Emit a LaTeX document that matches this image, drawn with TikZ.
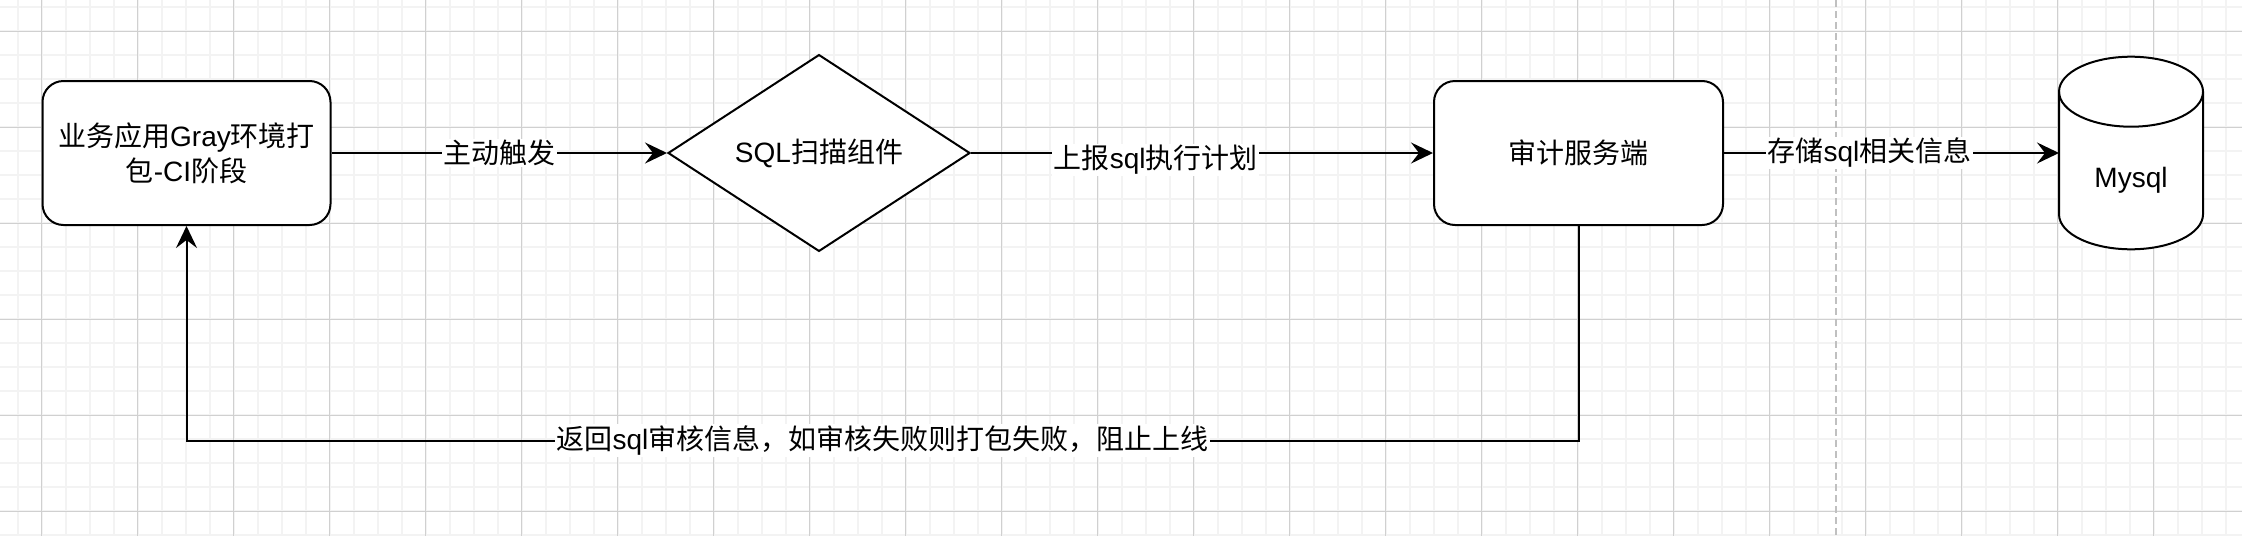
\documentclass[tikz,border=0pt]{standalone}
\usepackage{fontspec}
\setmainfont{Liberation Sans}
\newfontfamily\cjk{Noto Sans CJK SC}
\usetikzlibrary{arrows.meta,shapes.geometric}
\definecolor{gridminor}{RGB}{243,243,243}
\definecolor{gridmajor}{RGB}{208,208,208}
\definecolor{guide}{RGB}{192,192,192}
\tikzset{
  txt/.style={font=\fontsize{28}{35}\selectfont, align=center},
  box/.style={txt, draw, line width=2pt, rounded corners=21pt, fill=white,
    minimum width=288pt, minimum height=144pt, inner sep=0pt},
  decision/.style={txt, draw, diamond, line width=2pt, fill=white,
    minimum width=302pt, minimum height=192pt, inner sep=0pt},
  dbnode/.style={minimum width=144pt, minimum height=192.6pt, inner sep=0pt, outer sep=0pt},
  conn/.style={line width=2pt, -{Stealth[length=22pt,width=21pt,inset=8pt]}},
  lab/.style={txt, fill=white, inner sep=1.5pt},
  minorline/.style={gridminor, line width=2pt},
  majorline/.style={gridmajor, line width=1.2pt},
}
\begin{document}
\begin{tikzpicture}[x=1pt,y=-1pt]
\useasboundingbox (0,0) rectangle (2242,536);
\clip (0,0) rectangle (2242,536);
\fill[white] (0,0) rectangle (2242,536);
% grid
\foreach \i in {0,...,93} {\draw[minorline] (17.7+24*\i,0) -- (17.7+24*\i,536);}
\foreach \i in {0,...,22} {\draw[minorline] (0,7.3+24*\i) -- (2242,7.3+24*\i);}
\foreach \i in {0,...,23} {\draw[majorline] (41.7+96*\i,0) -- (41.7+96*\i,536);}
\foreach \i in {0,...,5} {\draw[majorline] (0,31.3+96*\i) -- (2242,31.3+96*\i);}
% dashed guide
\draw[guide, line width=2pt, dash pattern=on 7pt off 4pt] (1836,0) -- (1836,536);

% nodes
\node[box] (app) at (186.5,153) {{\cjk 业务应用}Gray{\cjk 环境打}\\{\cjk 包}-CI{\cjk 阶段}};
\node[decision] (scan) at (819,153) {SQL{\cjk 扫描组件}};
\node[box, minimum width=289pt] (audit) at (1578.5,153) {{\cjk 审计服务端}};
\node[dbnode] (db) at (2131,153) {};
\path[draw, fill=white, line width=2pt]
  ([yshift=-35pt]db.north west) -- ([yshift=35pt]db.south west)
  arc[start angle=180, end angle=360, x radius=72pt, y radius=35pt]
  -- ([yshift=-35pt]db.north east)
  arc[start angle=0, end angle=180, x radius=72pt, y radius=35pt] -- cycle;
\draw[line width=2pt] ([yshift=-35pt]db.north east)
  arc[start angle=0, end angle=-180, x radius=72pt, y radius=35pt];
\node[txt] (dbtext) at ([yshift=-27pt]db.center) {Mysql};

% connectors
\draw[conn] (app) -- node[lab, pos=0.5] {{\cjk 主动触发}} (scan);
\draw[conn] (scan) -- node[lab, pos=0.4, yshift=-7pt] {{\cjk 上报}sql{\cjk 执行计划}} (audit);
\draw[conn] (audit) -- node[lab, pos=0.434] {{\cjk 存储}sql{\cjk 相关信息}} (db);
\coordinate (turn) at (0,440.5);
\draw[conn] (audit.south) -- (audit.south |- turn)
  -- node[lab, pos=0.5] {{\cjk 返回}sql{\cjk 审核信息，如审核失败则打包失败，阻止上线}} (app.south |- turn)
  -- (app.south);
\end{tikzpicture}
\end{document}
